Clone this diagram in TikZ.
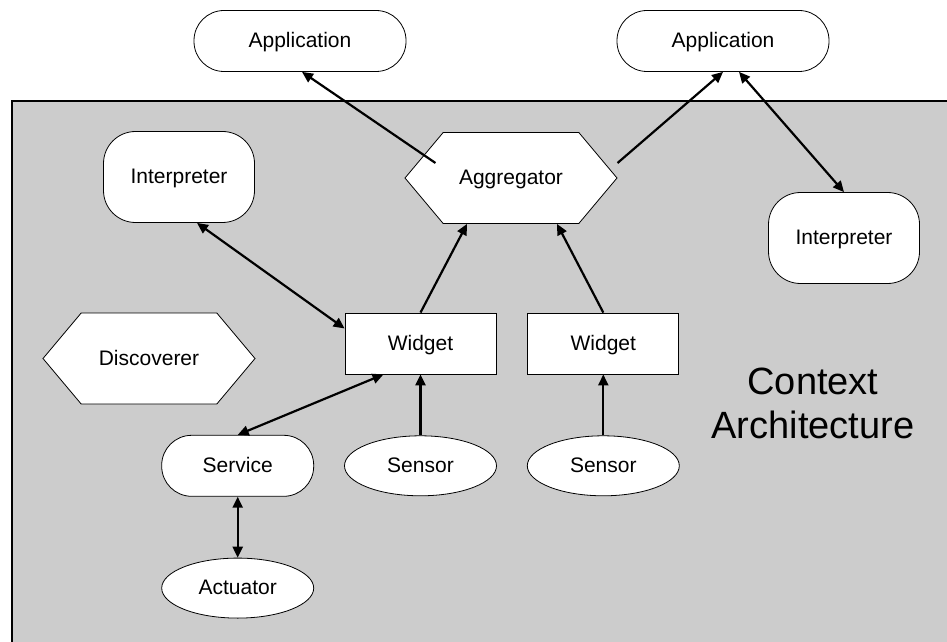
\documentclass[tikz,border=0pt]{standalone}
\usepackage{fontspec}
\setmainfont{Liberation Sans}
\usetikzlibrary{positioning,shapes.geometric,shapes.symbols,arrows.meta}
\definecolor{archgray}{RGB}{204,204,204}

\begin{document}
\begin{tikzpicture}[x=1pt, y=1pt, node distance=61pt,
  every node/.style={font=\fontsize{21}{25}\selectfont},
  comp/.style={draw, line width=0.8pt, fill=white, inner sep=0pt, text height=13pt, text depth=0pt},
  pill/.style={comp, rounded corners=30pt, minimum width=212pt, minimum height=61pt},
  interp/.style={comp, rounded corners=32pt, minimum width=151pt, minimum height=91pt},
  hexa/.style={comp, signal, signal to=east and west, signal pointer angle=100, minimum width=212pt, minimum height=91pt},
  block/.style={comp, minimum width=151pt, minimum height=61pt},
  oval/.style={comp, ellipse, minimum width=152pt, minimum height=60pt},
  link/.style={-{Triangle[length=11pt, width=10pt]}, line width=2.2pt},
  twoway/.style={{Triangle[length=11pt, width=10pt]}-{Triangle[length=11pt, width=10pt]}, line width=2.2pt}]

  \clip (0,0) rectangle (947,641);

  % Architecture area
  \draw[fill=archgray, line width=2.5pt] (12,540) rectangle (975,-30);

  % Applications
  \node[pill] (app1) at (300,600) {Application};
  \node[pill] (app2) at (723,600) {Application};

  % Upper row
  \node[interp] (interp1) at (179,464) {Interpreter};
  \node[hexa] (agg) at (511,463) {Aggregator};
  \node[interp] (interp2) at (844,403) {Interpreter};

  % Widgets
  \node[hexa] (disc) at (149,282.5) {Discoverer};
  \node[block] (w1) at (420.5,297.5) {Widget};
  \node[block, right=31pt of w1] (w2) {Widget};

  % Bottom rows
  \node[oval, below=of w1] (s1) {Sensor};
  \node[oval, below=of w2] (s2) {Sensor};
  \node[pill, minimum width=152pt, left=30pt of s1] (svc) {Service};
  \node[oval, below=of svc] (act) {Actuator};

  % Label
  \node[align=center, font=\fontsize{38}{44}\selectfont] (title) at (813,237.5) {Context\\Architecture};

  % Arrows to the applications
  \draw[link] ([shift={(31,15)}]agg.west) -- ([xshift=2pt]app1.south);
  \draw[link] ([yshift=15pt]agg.east) -- (app2.south);
  \draw[twoway] ([xshift=16pt]app2.south) -- (interp2.north);

  % Arrows around the widgets
  \draw[twoway] ([xshift=18pt]interp1.south) -- ([yshift=15pt]w1.west);
  \draw[link] (w1.north) -- ([xshift=-44pt]agg.south);
  \draw[link] (w2.north) -- ([xshift=46pt]agg.south);
  \draw[twoway] (svc.north) -- ([xshift=-37pt]w1.south);
  \draw[link] (s1) -- (w1);
  \draw[link] (s2) -- (w2);
  \draw[twoway] (svc) -- (act);

\end{tikzpicture}
\end{document}
